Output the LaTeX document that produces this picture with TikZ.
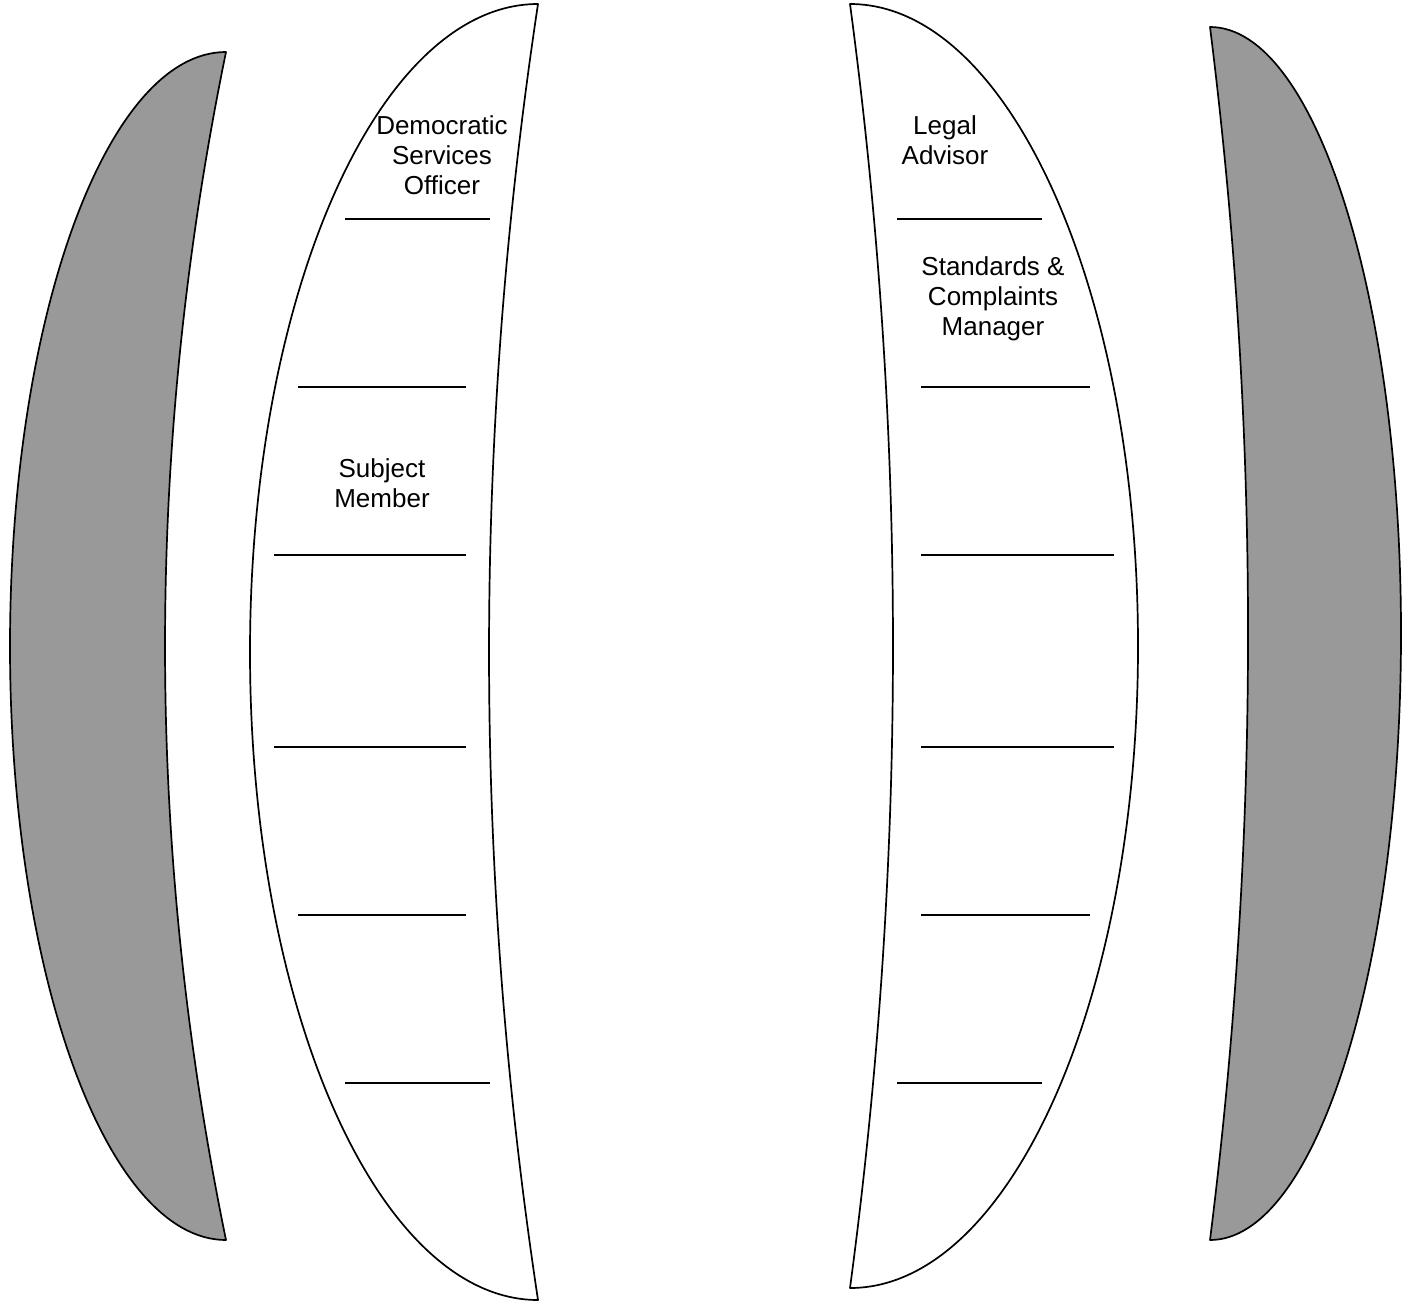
\documentclass[tikz,border=0pt]{standalone}
\usepackage{fontspec}
\setmainfont{Liberation Sans}
\definecolor{shade}{HTML}{999999}
\begin{document}
\begin{tikzpicture}[x=1pt,y=-1pt,
  outline/.style={draw=black,line width=1.7pt,line join=round},
  rule/.style={draw=black,line width=1.4pt},
  label/.style={align=center,inner sep=0pt,font=\fontsize{26}{30}\selectfont}]
\useasboundingbox (0,0) rectangle (1411,1304);
% left grey crescent
\path[outline,fill=shade] (226,52) .. controls (106.7,52) and (10,317.9) .. (10,646)
  .. controls (10,974.1) and (106.7,1240) .. (226,1240)
  .. controls (144.7,844) and (144.7,448) .. (226,52) -- cycle;
% left white crescent
\path[outline,fill=white] (538,4) .. controls (378.9,4) and (250,294.1) .. (250,652)
  .. controls (250,1009.9) and (378.9,1300) .. (538,1300)
  .. controls (472.7,868) and (472.7,436) .. (538,4) -- cycle;
% right white crescent
\path[outline,fill=white] (850,4) .. controls (1009.1,4) and (1138,291.4) .. (1138,646)
  .. controls (1138,1000.6) and (1009.1,1288) .. (850,1288)
  .. controls (907.3,860) and (907.3,432) .. (850,4) -- cycle;
% right grey crescent
\path[outline,fill=shade] (1210,27) .. controls (1315.5,27) and (1401,298.5) .. (1401,633.5)
  .. controls (1401,968.5) and (1315.5,1240) .. (1210,1240)
  .. controls (1260.7,835.7) and (1260.7,431.3) .. (1210,27) -- cycle;
% rules, left
\draw[rule] (345,219) -- (490,219);
\draw[rule] (298,387) -- (466,387);
\draw[rule] (274,555) -- (466,555);
\draw[rule] (274,747) -- (466,747);
\draw[rule] (298,915) -- (466,915);
\draw[rule] (345,1083) -- (490,1083);
% rules, right
\draw[rule] (897,219) -- (1042,219);
\draw[rule] (921,387) -- (1090,387);
\draw[rule] (921,555) -- (1114,555);
\draw[rule] (921,747) -- (1114,747);
\draw[rule] (921,915) -- (1090,915);
\draw[rule] (897,1083) -- (1042,1083);
% labels
\node[label] (dso) at (442,155) {Democratic\\Services\\Officer};
\node[label] (sm) at (382,483) {Subject\\Member};
\node[label] (la) at (945,140) {Legal\\Advisor};
\node[label] (scm) at (993,299) {Standards \&\\Complaints\\Manager};
\end{tikzpicture}
\end{document}
